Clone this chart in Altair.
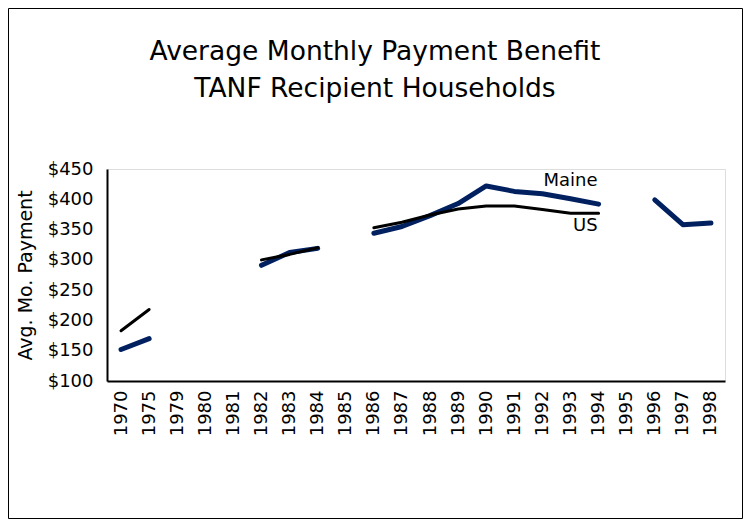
import altair as alt
import pandas as pd

years = ["1970", "1975", "1979", "1980", "1981", "1982", "1983", "1984", "1985",
         "1986", "1987", "1988", "1989", "1990", "1991", "1992", "1993", "1994",
         "1995", "1996", "1997", "1998"]
maine = [152, 170, None, None, None, 291, 312, 319, None, 344, 355, 373, 393,
         422, 413, 409, 401, 392, None, 399, 358, 361]
us = [183, 218, None, None, None, 300, 309, 320, None, 353, 362, 374, 384,
      389, 389, 383, 377, 377, None, None, None, None]

series_names = ["Maine", "US"]
series_colors = ["#002060", "#000000"]

label_text = ["Maine", "US"]
label_year = ["1994", "1994"]
label_value = [422, 348]

y_ticks = [100, 150, 200, 250, 300, 350, 400, 450]

title_lines = ["Average Monthly Payment Benefit", "TANF Recipient Households"]


def rows(name, vals):
    out = []
    seg = 0
    prev = None
    for y, v in zip(years, vals):
        if v is None:
            prev = None
            continue
        if prev is None:
            seg += 1
        out.append({"year": y, "value": v, "series": name, "seg": f"{name}-{seg}"})
        prev = v
    return out


df = pd.DataFrame(rows("Maine", maine) + rows("US", us))
lab = pd.DataFrame({"year": label_year, "value": label_value, "text": label_text})

W, H = 618, 212
PL, PT, PR, PB = 99, 161, 18, 138
FONT = "DejaVu Sans"

x_enc = alt.X("year:N", sort=years, scale=alt.Scale(domain=years, padding=0.5),
              axis=alt.Axis(title=None, labelAngle=-90, labelFontSize=18, labelFont=FONT,
                            labelColor="black", tickSize=0, labelPadding=9,
                            labelOverlap=False, domainColor="black", domainWidth=2))
y_enc = alt.Y("value:Q", scale=alt.Scale(domain=[100, 450], nice=False, zero=False),
              axis=alt.Axis(title="Avg. Mo. Payment", values=y_ticks, tickCount=8,
                            labelExpr="'$' + datum.value", labelFontSize=18,
                            labelFont=FONT, labelColor="black", titleFont=FONT,
                            titleFontSize=19, titleFontWeight="normal", titleColor="black",
                            titlePadding=12, tickSize=0, labelPadding=14, grid=False,
                            labelOverlap=False, labelBound=False,
                            domainColor="black", domainWidth=2))

maine_line = alt.Chart(df[df.series == "Maine"]).mark_line(
    strokeWidth=5, strokeCap="round", strokeJoin="round", color=series_colors[0]
).encode(x=x_enc, y=y_enc, detail="seg:N")

us_line = alt.Chart(df[df.series == "US"]).mark_line(
    strokeWidth=3, strokeCap="round", strokeJoin="round", color=series_colors[1]
).encode(x=x_enc, y=y_enc, detail="seg:N")

labels = alt.Chart(lab).mark_text(
    align="right", baseline="alphabetic", fontSize=18, font=FONT, color="black", dx=-1
).encode(x=x_enc, y=y_enc, text="text:N")

one = pd.DataFrame({"a": [0]})

border = alt.Chart(one).mark_rect(
    fill="transparent", stroke="black", strokeWidth=1
).encode(x=alt.value(-PL + 0.5), x2=alt.value(W + PR - 0.5),
         y=alt.value(-PT + 0.5), y2=alt.value(H + PB - 0.5))

title = alt.Chart(one).mark_text(
    text=title_lines, align="center", baseline="alphabetic", fontSize=26.5,
    font=FONT, color="black", lineHeight=37
).encode(x=alt.value(268), y=alt.value(-109))

chart = alt.layer(border, maine_line, us_line, labels, title).properties(
    width=W, height=H,
    autosize=alt.AutoSizeParams(type="none"),
    padding={"left": PL, "top": PT, "right": PR, "bottom": PB},
).configure_view(stroke="#555555", strokeWidth=1).configure(background="white")

chart.save("out.html", embed_options={"renderer": "svg", "actions": False})
